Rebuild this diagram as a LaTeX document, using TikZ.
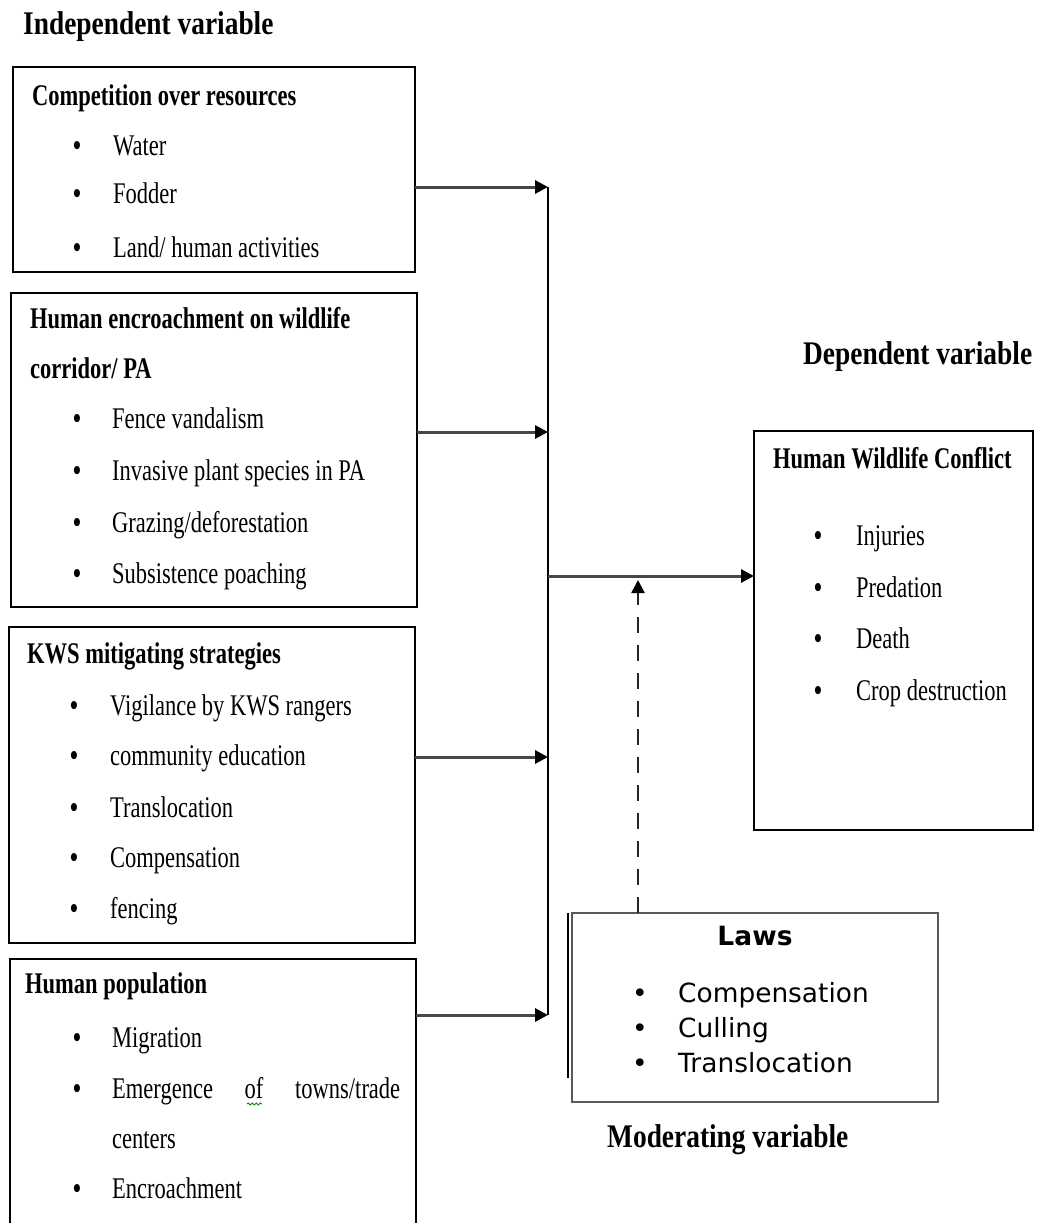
\documentclass[tikz,border=0pt]{standalone}
\usepackage{fontspec}
\setmainfont{Liberation Serif}
\newfontfamily\bodyf[FakeStretch=0.75]{Liberation Serif}
\newfontfamily\headf[FakeStretch=0.83]{Liberation Serif}
\newfontfamily\lawsf{DejaVu Sans}
\usetikzlibrary{arrows.meta,decorations.pathmorphing}
\tikzset{
 box/.style={draw=black, line width=1.8pt, anchor=north west, inner sep=0pt, outer sep=0pt},
 txt/.style={anchor=base west, inner sep=0pt, font=\bodyf\fontsize{30}{36}\selectfont},
 bul/.style={anchor=base west, inner sep=0pt, font=\bodyf\bfseries\fontsize{30}{36}\selectfont},
 ttl/.style={anchor=base west, inner sep=0pt, font=\bodyf\bfseries\fontsize{30}{36}\selectfont},
 hd/.style={anchor=base west, inner sep=0pt, font=\headf\bfseries\fontsize{33}{40}\selectfont},
 law/.style={anchor=base west, inner sep=0pt, font=\lawsf\fontsize{26.4}{31}\selectfont},
 lawttl/.style={anchor=base, inner sep=0pt, font=\lawsf\bfseries\fontsize{26.5}{31}\selectfont},
 arr/.style={line width=3pt, draw=black!72, -{Triangle[length=13pt,width=13pt,color=black]}},
 dasharr/.style={line width=2.4pt, draw=black!85, dash pattern=on 16pt off 12pt, -{Triangle[length=13pt,width=13pt,color=black]}},
 vline/.style={line width=2pt, draw=black},
}
\begin{document}
\begin{tikzpicture}[x=1pt,y=-1pt]
\useasboundingbox (0,0) rectangle (1038,1223);
\fill[white] (0,0) rectangle (1038,1223);

% headings
\node[hd] (hind) at (23,35) {Independent variable};
\node[hd] (hdep) at (803,364) {Dependent variable};
\node[hd] (hmod) at (607,1147) {Moderating variable};

% boxes
\node[box, minimum width=402pt, minimum height=205pt] (b1) at (13,67) {};
\node[box, minimum width=406pt, minimum height=314pt] (b2) at (11,293) {};
\node[box, minimum width=406pt, minimum height=316pt] (b3) at (9,627) {};
\node[box, minimum width=406pt, minimum height=290pt] (b4) at (10,959) {};
\node[box, minimum width=279pt, minimum height=399pt] (hwc) at (754,431) {};
\node[box, draw=black!65, line width=2pt, minimum width=366pt, minimum height=189pt] (laws) at (572,913) {};
\draw[line width=2.2pt] ([xshift=-4pt]laws.north west) -- ++(0,165);

% box 1
\node[ttl] (t1) at (32,105) {Competition over resources};
\node[bul] (b1a) at (73,155) {\textbullet};
\node[txt] (b1at) at (113,155) {Water};
\node[bul] (b1b) at (73,203) {\textbullet};
\node[txt] (b1bt) at (113,203) {Fodder};
\node[bul] (b1c) at (73,257) {\textbullet};
\node[txt] (b1ct) at (113,257) {Land/ human activities};

% box 2
\node[ttl] (t2a) at (30,328) {Human encroachment on wildlife};
\node[ttl] (t2b) at (30,378) {corridor/ PA};
\node[bul] (b2a) at (73,428) {\textbullet};
\node[txt] (b2at) at (112,428) {Fence vandalism};
\node[bul] (b2b) at (73,480) {\textbullet};
\node[txt] (b2bt) at (112,480) {Invasive plant species in PA};
\node[bul] (b2c) at (73,532) {\textbullet};
\node[txt] (b2ct) at (112,532) {Grazing/deforestation};
\node[bul] (b2d) at (73,583) {\textbullet};
\node[txt] (b2dt) at (112,583) {Subsistence poaching};

% box 3
\node[ttl] (t3) at (27,663) {KWS mitigating strategies};
\node[bul] (b3a) at (70,715) {\textbullet};
\node[txt] (b3at) at (110,715) {Vigilance by KWS rangers};
\node[bul] (b3b) at (70,765) {\textbullet};
\node[txt] (b3bt) at (110,765) {community education};
\node[bul] (b3c) at (70,817) {\textbullet};
\node[txt] (b3ct) at (110,817) {Translocation};
\node[bul] (b3d) at (70,867) {\textbullet};
\node[txt] (b3dt) at (110,867) {Compensation};
\node[bul] (b3e) at (70,918) {\textbullet};
\node[txt] (b3et) at (110,918) {fencing};

% box 4
\node[ttl] (t4) at (25,993) {Human population};
\node[bul] (b4a) at (73,1047) {\textbullet};
\node[txt] (b4at) at (112,1047) {Migration};
\node[bul] (b4b) at (73,1098) {\textbullet};
\node[txt] (b4bt) at (112,1098) {\hbox to 288pt{Emergence\hfill of\hfill towns/trade}};
\node[txt] (b4bt2) at (112,1148) {centers};
\node[bul] (b4c) at (73,1198) {\textbullet};
\node[txt] (b4ct) at (112,1198) {Encroachment};
\draw[green!55!black, line width=0.9pt, decorate, decoration={snake, amplitude=1pt, segment length=4pt}] (247,1104) -- (262,1104);

% HWC
\node[ttl] (thwc) at (773,468) {Human Wildlife Conflict};
\node[bul] (h1) at (814,545) {\textbullet};
\node[txt] (h1t) at (856,545) {Injuries};
\node[bul] (h2) at (814,597) {\textbullet};
\node[txt] (h2t) at (856,597) {Predation};
\node[bul] (h3) at (814,648) {\textbullet};
\node[txt] (h3t) at (856,648) {Death};
\node[bul] (h4) at (814,700) {\textbullet};
\node[txt] (h4t) at (856,700) {Crop destruction};

% Laws
\node[lawttl] (lt) at (755,945) {Laws};
\node[law] (l1) at (632,1002) {•};
\node[law] (l1t) at (678,1002) {Compensation};
\node[law] (l2) at (632,1037) {•};
\node[law] (l2t) at (678,1037) {Culling};
\node[law] (l3) at (632,1072) {•};
\node[law] (l3t) at (678,1072) {Translocation};

% connectors
\coordinate (j1) at (548,187);
\coordinate (j2) at (548,432);
\coordinate (j3) at (548,757);
\coordinate (j4) at (548,1015);
\coordinate (jm) at (548,576);
\coordinate (dm) at (638,580);
\draw[vline] (j1) -- (j4);
\draw[arr] (b1.east |- j1) -- (j1);
\draw[arr] (b2.east |- j2) -- (j2);
\draw[arr] (b3.east |- j3) -- (j3);
\draw[arr] (b4.east |- j4) -- (j4);
\draw[arr] (jm) -- (hwc.west |- jm);
\draw[dasharr] (dm |- laws.north) -- (dm);
\end{tikzpicture}
\end{document}
